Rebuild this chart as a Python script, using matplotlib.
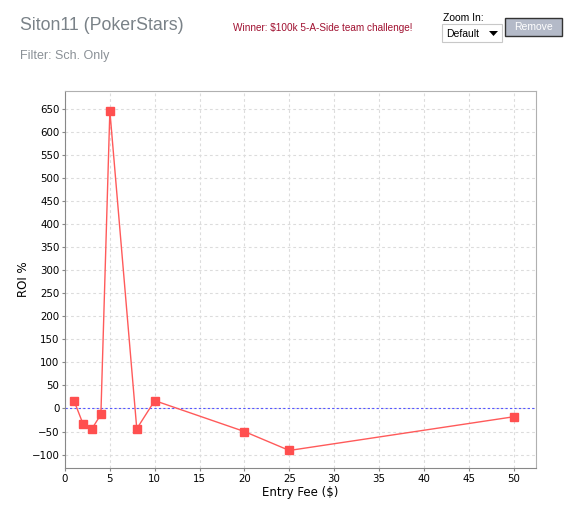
import matplotlib
matplotlib.use('Agg')
from matplotlib import pyplot as plt
from matplotlib.patches import Rectangle, Polygon

# data
entry_fee = [1, 2, 3, 4, 5, 8, 10, 20, 25, 50]
roi = [17, -33, -44, -13, 645, -44, 17, -50, -91, -18]
x_ticks = list(range(0, 55, 5))
y_ticks = list(range(-100, 700, 50))

title = 'Siton11 (PokerStars)'
subtitle = 'Filter: Sch. Only'
winner = r'Winner: \$100k 5-A-Side team challenge!'

W, H = 569, 509
fig = plt.figure(figsize=(W / 100, H / 100), dpi=100)
fig.patch.set_facecolor('white')

def px(x, y):
	# pixel coordinates (top-left origin) -> figure fraction
	return x / W, 1 - y / H

# header texts
fig.text(*px(20, 26), title, fontsize=12.8, color='#7a8288', family='Liberation Sans', va='center')
fig.text(*px(20, 56), subtitle, fontsize=9, color='#8a9096', family='Liberation Sans', va='center')
fig.text(*px(233, 28), winner, fontsize=7.2, color='#a01030', family='Liberation Sans', va='center')
fig.text(*px(443, 18), 'Zoom In:', fontsize=7.5, color='black', family='Liberation Sans', va='center')

# dropdown
bx, by = px(442, 42)
fig.patches.append(Rectangle((bx, by), 60 / W, 18 / H, transform=fig.transFigure,
	facecolor='white', edgecolor='#c8c8c8', lw=0.8))
fig.text(*px(446, 34), 'Default', fontsize=7.5, color='black', family='Liberation Sans', va='center')
tx, ty = px(489, 31)
fig.patches.append(Polygon([(tx, ty), (tx + 9 / W, ty), (tx + 4.5 / W, ty - 5 / H)],
	closed=True, transform=fig.transFigure, facecolor='black', edgecolor='none'))

# remove button
rx, ry = px(505, 36)
fig.patches.append(Rectangle((rx, ry), 57 / W, 18 / H, transform=fig.transFigure,
	facecolor='#b4bac8', edgecolor='#333333', lw=1))
fig.text(*px(533.5, 27), 'Remove', fontsize=7.5, color='white', family='Liberation Sans',
	va='center', ha='center')

# plot area
ax = fig.add_axes([65 / W, 1 - 468 / H, (536 - 65) / W, (468 - 91) / H])
ax.set_xlim(0, 52.5)
ax.set_ylim(-129, 688)
ax.set_xticks(x_ticks)
ax.set_yticks(y_ticks)
ax.grid(color='#dcdcdc', linestyle=(0, (2.5, 2.5)), linewidth=0.8)
ax.set_axisbelow(True)
for s in ax.spines.values():
	s.set_color('#b0b0b0')
ax.spines['left'].set_color('#888888')
ax.spines['bottom'].set_color('#888888')
ax.tick_params(labelsize=7.4, length=2, color='#888888', pad=2)

ax.axhline(0, color='#5555ff', linestyle=(0, (2, 2)), linewidth=0.8, zorder=2)
ax.plot(entry_fee, roi, color='#ff5a5a', lw=1, marker='s', markersize=5.5,
	markerfacecolor='#ff4f4f', markeredgecolor='#ff4f4f', zorder=3)

ax.set_xlabel(r'Entry Fee (\$)', fontsize=8.5, labelpad=2)
ax.set_ylabel('ROI %', fontsize=8.5, labelpad=1)

fig.savefig('out.png', dpi=100)
